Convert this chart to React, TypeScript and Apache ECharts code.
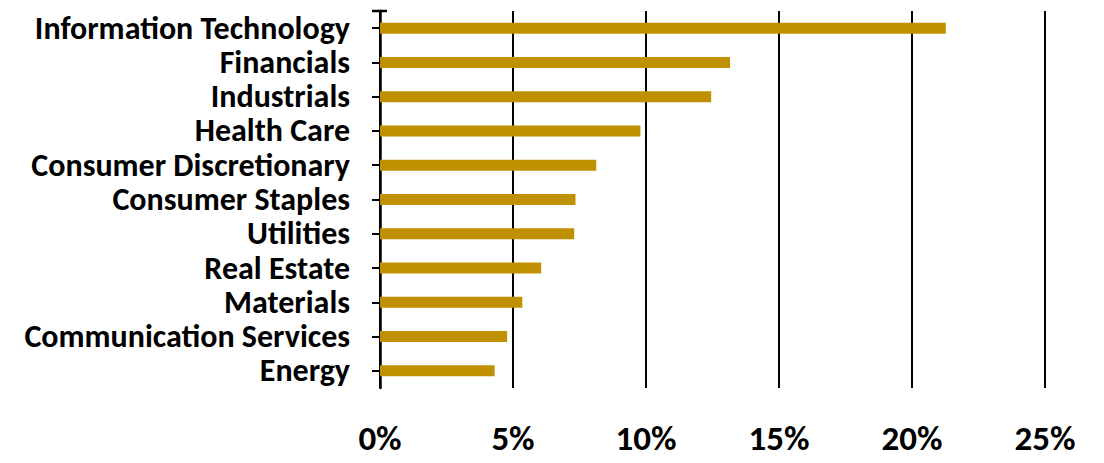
import React, { useEffect, useRef } from "react";
import * as echarts from "echarts";

const categories = [
  "Information Technology",
  "Financials",
  "Industrials",
  "Health Care",
  "Consumer Discretionary",
  "Consumer Staples",
  "Utilities",
  "Real Estate",
  "Materials",
  "Communication Services",
  "Energy",
];
const weights = [21.27, 13.16, 12.45, 9.79, 8.13, 7.35, 7.3, 6.06, 5.35, 4.78, 4.31];
const xTicks = [0, 5, 10, 15, 20, 25];

const FONT = 'Carlito, "Open Sans", sans-serif';

export default function App() {
  const ref = useRef<HTMLDivElement>(null);
  useEffect(() => {
    if (!ref.current) return;
    const chart = echarts.init(ref.current, undefined, { renderer: "svg" });
    const yBase = {
      type: "category" as const,
      data: categories,
      inverse: true,
      position: "left" as const,
    };
    chart.setOption({
      animation: false,
      grid: { left: 380, right: 59, top: 11, bottom: 75, containLabel: false },
      xAxis: {
        type: "value",
        min: xTicks[0],
        max: xTicks[xTicks.length - 1],
        interval: 5,
        axisLine: { show: false },
        axisTick: { show: false },
        splitLine: { show: true, lineStyle: { color: "#000", width: 2 } },
        axisLabel: {
          formatter: "{value}%",
          margin: 32,
          color: "#000",
          fontFamily: FONT,
          fontWeight: "bold",
          fontSize: 35,
        },
      },
      yAxis: [
        {
          ...yBase,
          axisLine: { show: true, lineStyle: { color: "#000", width: 2.5 } },
          axisTick: { show: true, alignWithLabel: true, length: 8, lineStyle: { color: "#000", width: 2 } },
          axisLabel: {
            interval: 0,
            margin: 30,
            color: "#000",
            fontFamily: FONT,
            fontWeight: "bold",
            fontSize: 32,
            lineHeight: 32,
          },
        },
        {
          ...yBase,
          axisLine: { show: false },
          axisTick: { show: true, inside: true, alignWithLabel: true, length: 7, lineStyle: { color: "#000", width: 2 } },
          axisLabel: { show: false },
        },
      ],
      graphic: [
        {
          type: "line",
          shape: { x1: 372, y1: 11, x2: 387, y2: 11 },
          style: { stroke: "#000", lineWidth: 2.5 },
          z: 10,
        },
      ],
      series: [
        {
          type: "bar",
          data: weights,
          barWidth: 11,
          itemStyle: { color: "#BF9000" },
          z: 3,
        },
      ],
    });
    return () => chart.dispose();
  }, []);
  return <div ref={ref} style={{ width: 1104, height: 463, margin: -8 }} />;
}
